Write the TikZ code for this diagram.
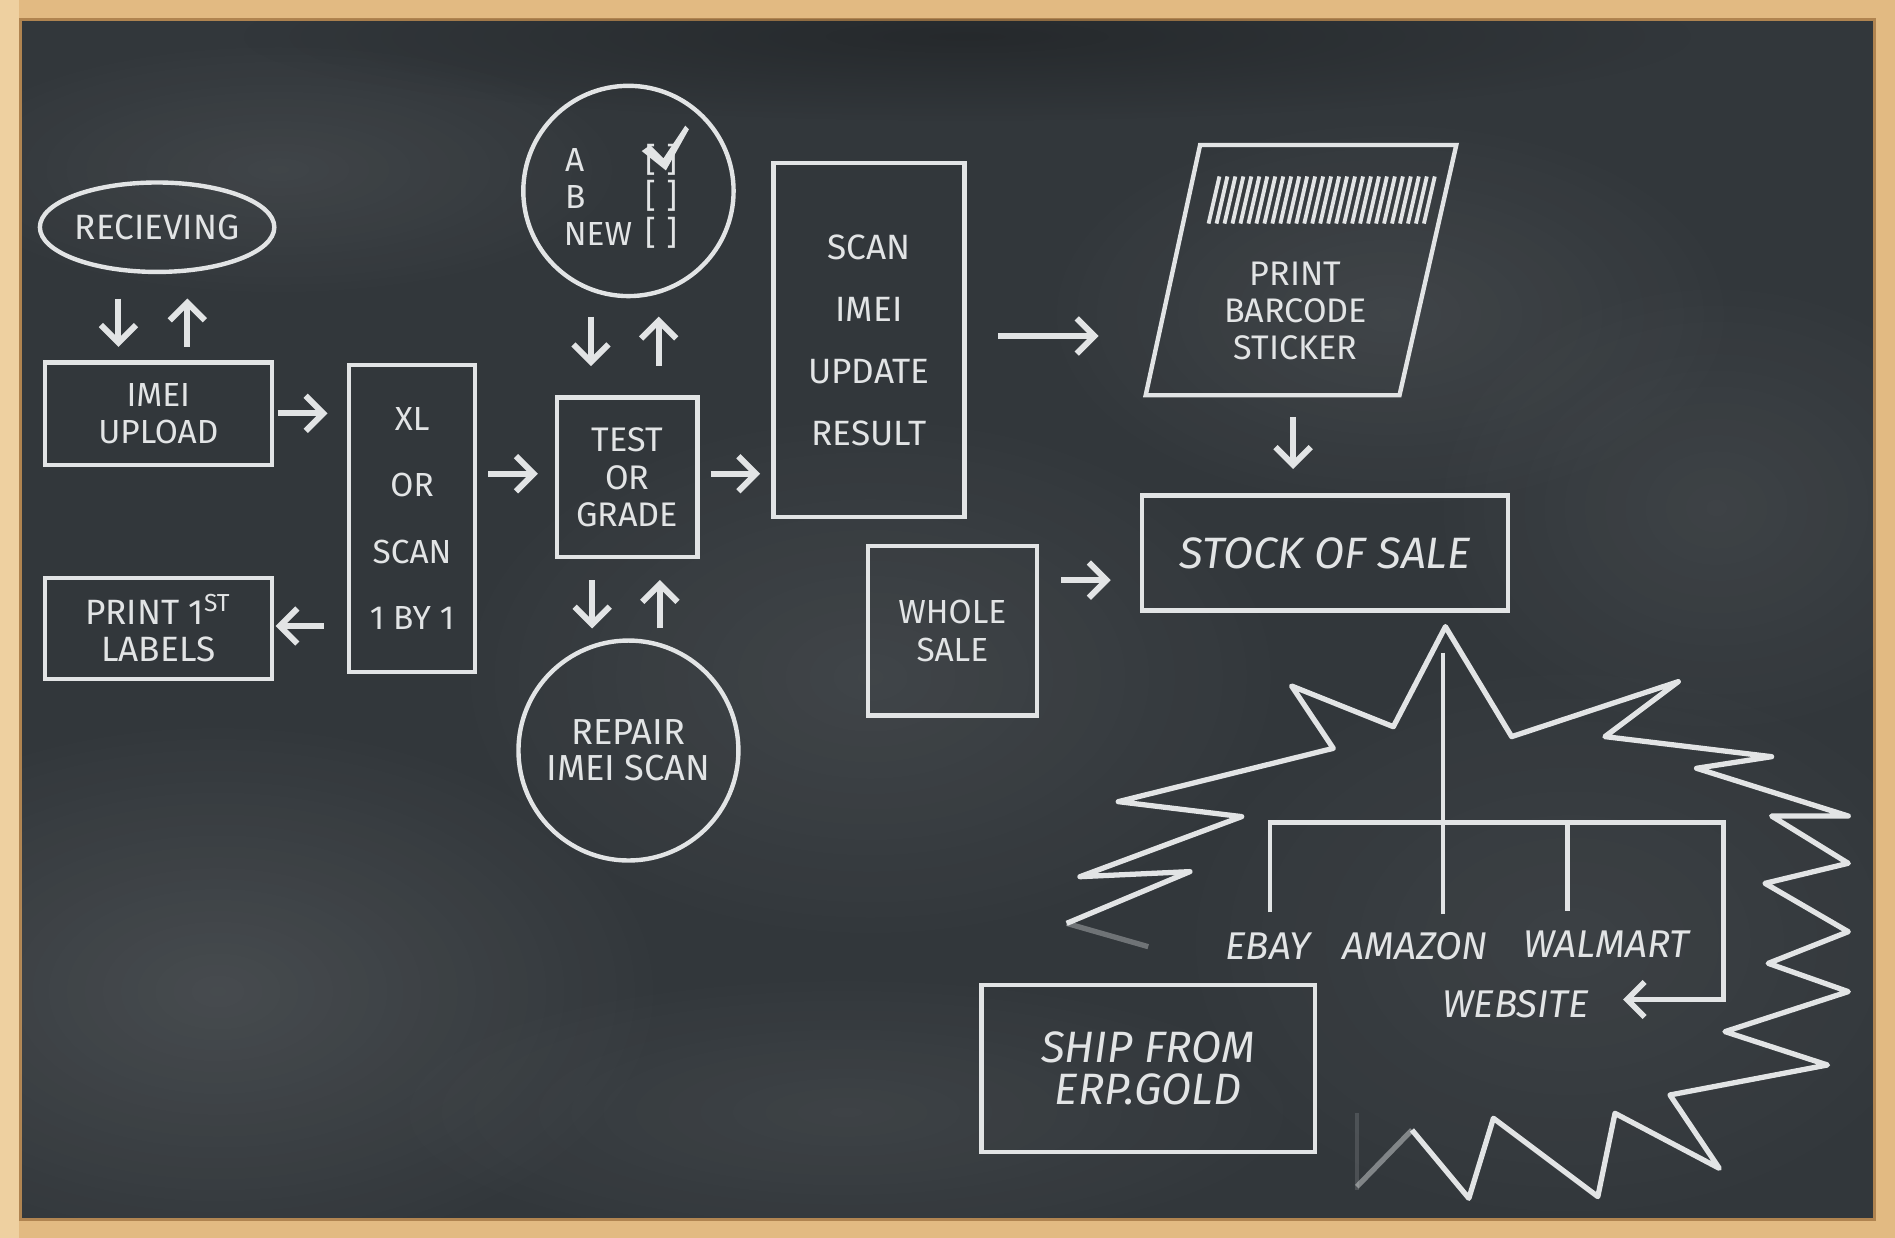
\documentclass[tikz,border=0pt]{standalone}
\usepackage{fontspec}
\setmainfont{Fira Sans}
\usetikzlibrary{arrows.meta,shapes.geometric,fadings}
\newlength\un \setlength\un{0.012086cm}
\newcommand\chalkfs[2]{\fontsize{#1}{#2}\selectfont}
\definecolor{board}{RGB}{50,55,59}
\definecolor{chalk}{RGB}{226,228,229}
\definecolor{wood}{RGB}{226,186,130}
\definecolor{woodlight}{RGB}{238,208,160}
\definecolor{woodedge}{RGB}{176,132,80}
\tikzfading[name=fuzzy, inner color=transparent!0, outer color=transparent!100]
\begin{document}
\begin{tikzpicture}[x=0.012086cm,y=-0.012086cm,
  chalkline/.style={draw=chalk, line width=1.25pt},
  box/.style={chalkline, rectangle, inner sep=0pt, align=center, text=chalk},
  txt/.style={text=chalk, align=center, inner sep=0pt},
  arr/.style={draw=chalk, line width=1.7pt, -{Straight Barb[length=5pt,width=10pt]}},
  burst/.style={draw=chalk, line width=1.5pt, line join=round}]
\useasboundingbox (0,0) rectangle (1568,1024);
% frame and board
\fill[wood] (0,0) rectangle (1568,1024);
\fill[woodlight] (0,0) rectangle (16,1024);
\fill[board] (17,16) rectangle (1551,1009);
\draw[woodedge, line width=0.8pt] (17,16) rectangle (1551,1009);
% chalk dust clouds
\begin{scope}
\clip (17,16) rectangle (1551,1009);
\fill[white, fill opacity=0.10, path fading=fuzzy] (180,820) ellipse [x radius=380, y radius=230];
\fill[white, fill opacity=0.07, path fading=fuzzy] (230,140) ellipse [x radius=300, y radius=110];
\fill[white, fill opacity=0.07, path fading=fuzzy] (720,560) ellipse [x radius=360, y radius=230];
\fill[white, fill opacity=0.07, path fading=fuzzy] (1150,260) ellipse [x radius=300, y radius=170];
\fill[white, fill opacity=0.06, path fading=fuzzy] (1420,420) ellipse [x radius=250, y radius=200];
\fill[white, fill opacity=0.06, path fading=fuzzy] (700,920) ellipse [x radius=400, y radius=120];
\fill[white, fill opacity=0.05, path fading=fuzzy] (1300,780) ellipse [x radius=350, y radius=250];
\fill[black, fill opacity=0.25, path fading=fuzzy] (800,30) ellipse [x radius=600, y radius=70];
\end{scope}

% nodes
\node[box, ellipse, minimum width=194\un, minimum height=74\un, font=\chalkfs{10}{11}] (recv) at (130,188) {RECIEVING};
\node[box, minimum width=188\un, minimum height=85\un, font=\chalkfs{9.5}{10.6}] (imei) at (131,342.5) {IMEI\\UPLOAD};
\node[box, minimum width=104\un, minimum height=254\un, font=\chalkfs{9.5}{18.9}] (xl) at (341,429) {XL\\OR\\SCAN\\1 BY 1};
\node[box, minimum width=188\un, minimum height=84\un, font=\chalkfs{10}{10.6}] (print1) at (131,520) {PRINT 1\textsuperscript{ST}\\LABELS};
\node[box, minimum width=116\un, minimum height=132\un, font=\chalkfs{9.7}{10.6}] (test) at (519,395) {TEST\\OR\\GRADE};
\node[box, circle, minimum size=174\un] (grade) at (520,158) {};
\node[box, circle, minimum size=182\un, font=\chalkfs{10.3}{10.3}] (repair) at (520,621) {REPAIR\\IMEI SCAN};
\node[box, minimum width=158\un, minimum height=293\un, font=\chalkfs{10}{17.6}] (scan) at (719,281.5) {SCAN\\IMEI\\UPDATE\\RESULT};
\node[box, minimum width=303\un, minimum height=95\un, font=\chalkfs{12.5}{13}\itshape] (stock) at (1096.5,457.5) {STOCK OF SALE};
\node[box, minimum width=140\un, minimum height=140\un, font=\chalkfs{9.5}{10.6}] (whole) at (788,522) {WHOLE\\SALE};
\node[box, minimum width=276\un, minimum height=138\un, font=\chalkfs{12.5}{12}\itshape] (ship) at (950,884) {SHIP FROM\\ERP.GOLD};

% checklist
\node[txt, anchor=west, font=\chalkfs{9.5}{10}] (optA) at (467,132) {A};
\node[txt, anchor=west, font=\chalkfs{9.5}{10}] (optB) at (467,163) {B};
\node[txt, anchor=west, font=\chalkfs{9.5}{10}] (optN) at (466,194) {NEW};
\node[txt, font=\chalkfs{9.5}{10}] (boxA) at (547,132) {[\hspace{3pt}]};
\node[txt, font=\chalkfs{9.5}{10}] (boxB) at (547,162) {[\hspace{3pt}]};
\node[txt, font=\chalkfs{9.5}{10}] (boxN) at (547,193) {[\hspace{3pt}]};
\fill[chalk] (531,125) -- (538,120) -- (549,131) -- (567,104) -- (570,107) -- (551,141) -- cycle;

% sticker parallelogram
\draw[chalkline] (993,120) -- (1205,120) -- (1158,327) -- (948,327) -- cycle;
\foreach \i in {0,...,27}{
  \draw[chalk, line width=1.1pt] ({1000+6.6*\i},185) -- ({1009+6.6*\i},146);
}
\node[txt, font=\chalkfs{9.7}{10.5}] (sticker) at (1072,257) {PRINT\\BARCODE\\STICKER};

% arrow coordinates
\coordinate (rd1) at (98,247);  \coordinate (rd2) at (98,287);
\coordinate (ru1) at (155,287); \coordinate (ru2) at (155,247);
\coordinate (ix1) at (230,342); \coordinate (ix2) at (271,342);
\coordinate (xp1) at (268,518); \coordinate (xp2) at (228,518);
\coordinate (xt1) at (404,392); \coordinate (xt2) at (445,392);
\coordinate (gd1) at (489,262); \coordinate (gd2) at (489,303);
\coordinate (gu1) at (545,303); \coordinate (gu2) at (545,262);
\coordinate (td1) at (490,480); \coordinate (td2) at (490,520);
\coordinate (tu1) at (546,520); \coordinate (tu2) at (546,480);
\coordinate (ts1) at (588,392); \coordinate (ts2) at (629,392);
\coordinate (ss1) at (826,278); \coordinate (ss2) at (909,278);
\coordinate (sk1) at (1070,345); \coordinate (sk2) at (1070,388);
\coordinate (ws1) at (878,480); \coordinate (ws2) at (919,480);
\foreach \a in {rd,ru,ix,xp,xt,gd,gu,td,tu,ts,ss,sk,ws}{
  \draw[arr] (\a1) -- (\a2);
}

% starburst
\draw[burst] (882.6,764) -- (984.6,721.2) -- (893.6,725.4) -- (1027.4,675.7) -- (925.3,663.3)
  -- (1103.2,619.2) -- (1068.7,567.6) -- (1152.9,601.3) -- (1196,518.5) -- (1250.8,609.5)
  -- (1388.7,564) -- (1328,609.5) -- (1465.9,626.1) -- (1403.8,635.7) -- (1529.3,675.2)
  -- (1465.9,675.2) -- (1529.3,714.3) -- (1460.4,730.9) -- (1529.3,770.9) -- (1463.1,797.1)
  -- (1529.3,820.5) -- (1427.3,853.6) -- (1512.1,881.2) -- (1381.8,906) -- (1422.6,966.7)
  -- (1336.3,921.2) -- (1322.1,990.1) -- (1235.7,925.3) -- (1215.4,991.5) -- (1168.3,935);
\draw[burst, draw opacity=0.45] (1168.3,935) -- (1122.7,981.9);
\draw[burst, draw opacity=0.35] (882.6,764) -- (950.1,783.3);
\draw[chalk, line width=1pt, draw opacity=0.15] (1123,921) -- (1123,985);

% tree inside burst
\coordinate (trunkTop) at (1194,540);
\coordinate (trunkBot) at (1194,756);
\coordinate (ebayTop) at (1051,755);
\coordinate (bRight) at (1426,680.5);
\coordinate (bCorner) at (1426,827);
\coordinate (webTip) at (1343,827);
\coordinate (walTop) at (1297,680.5);
\coordinate (walBot) at (1297,754);
\draw[chalkline] (trunkTop) -- (trunkBot);
\draw[chalkline] (walTop) -- (walBot);
\draw[chalkline, -{Straight Barb[length=5pt,width=10pt,line width=1.6pt]}] (ebayTop) |- (bRight) -- (bCorner) -- (webTip);

\node[txt, font=\chalkfs{11}{11}\itshape] (ebay) at (1049,783) {EBAY};
\node[txt, font=\chalkfs{11}{11}\itshape] (amazon) at (1171,783) {AMAZON};
\node[txt, font=\chalkfs{11}{11}\itshape] (walmart) at (1329,781) {WALMART};
\node[txt, font=\chalkfs{11}{11}\itshape] (website) at (1254,831) {WEBSITE};
\end{tikzpicture}
\end{document}
